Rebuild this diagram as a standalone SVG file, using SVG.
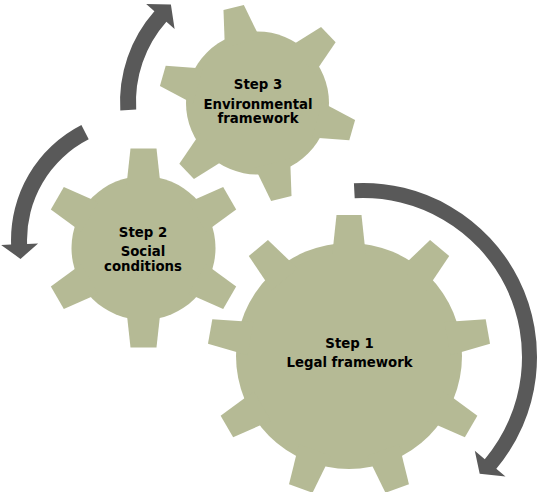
<svg xmlns="http://www.w3.org/2000/svg" width="539" height="492" viewBox="0 0 539 492">
<defs>
<style>
.gear{fill:#b5ba95}
.arrow{fill:#595959}
text{font-family:"DejaVu Sans",Verdana,sans-serif;font-weight:bold;font-size:13.3px;fill:#000;text-anchor:middle}
</style>
<polygon id="t1" points="-16.9,-100 16.9,-100 12.5,-141 -12.5,-141"/>
<polygon id="t2" points="-17.1,-62 17.1,-62 13,-99.5 -13,-99.5"/>
<polygon id="t3" points="-18.2,-62 18.2,-62 10.5,-98.5 -10.5,-98.5"/>
</defs>
<rect width="539" height="492" fill="#ffffff"/>

<g id="connectors" class="arrow">
<path id="arrow-1-to-loop" d="M 353.9,183.2 A 174,174 0 0 1 496.3,468.8 L 505.5,476.6 L 479.7,473.7 L 474.8,450.8 L 484.8,459.2 A 159,159 0 0 0 354.7,198.2 Z"/>
<path id="arrow-up" d="M 120.3,110.4 A 137,137 0 0 1 154.4,11.2 L 146.2,3.9 L 170.9,4.6 L 174.6,29.1 L 166.4,21.8 A 121,121 0 0 0 136.2,109.4 Z"/>
<path id="arrow-down" d="M 81.4,125.1 A 129,129 0 0 0 11.1,244.5 L 1.1,244.9 L 20.5,258.9 L 38.1,243.6 L 27.1,243.9 A 113,113 0 0 1 88.7,139.3 Z"/>
</g>

<g id="step1" class="gear">
<g transform="translate(349,356)">
<circle r="113"/>
<use href="#t1"/>
<use href="#t1" transform="rotate(40)"/>
<use href="#t1" transform="rotate(80)"/>
<use href="#t1" transform="rotate(120)"/>
<use href="#t1" transform="rotate(160)"/>
<use href="#t1" transform="rotate(200)"/>
<use href="#t1" transform="rotate(240)"/>
<use href="#t1" transform="rotate(280)"/>
<use href="#t1" transform="rotate(320)"/>
</g>
<text x="349.5" y="348.3">Step 1</text>
<text x="349.5" y="367.3">Legal framework</text>
</g>

<g id="step2" class="gear">
<g transform="translate(143.5,248)">
<circle r="72"/>
<use href="#t2"/>
<use href="#t2" transform="rotate(60)"/>
<use href="#t2" transform="rotate(120)"/>
<use href="#t2" transform="rotate(180)"/>
<use href="#t2" transform="rotate(240)"/>
<use href="#t2" transform="rotate(300)"/>
</g>
<text x="143" y="236.7">Step 2</text>
<text x="143" y="256">Social</text>
<text x="143" y="270.7">conditions</text>
</g>

<g id="step3" class="gear">
<g transform="translate(257.5,103)">
<circle r="71.5"/>
<use href="#t3" transform="rotate(-14)"/>
<use href="#t3" transform="rotate(46)"/>
<use href="#t3" transform="rotate(106)"/>
<use href="#t3" transform="rotate(166)"/>
<use href="#t3" transform="rotate(226)"/>
<use href="#t3" transform="rotate(286)"/>
</g>
<text x="258" y="89.3">Step 3</text>
<text x="258" y="109.3">Environmental</text>
<text x="258" y="123.3">framework</text>
</g>
</svg>
